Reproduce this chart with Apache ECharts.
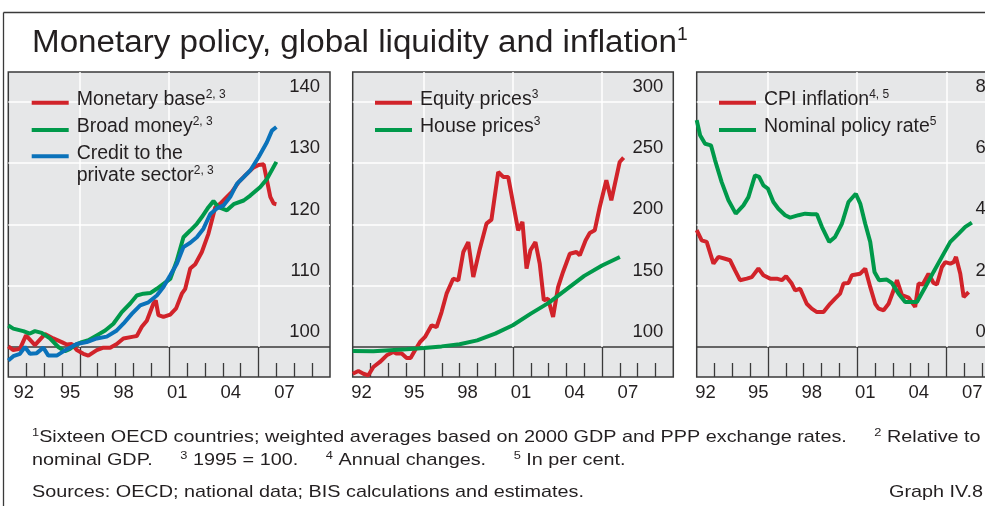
<!DOCTYPE html>
<html>
<head>
<meta charset="utf-8">
<title>Monetary policy, global liquidity and inflation</title>
<script src="https://cdn.jsdelivr.net/npm/echarts@6/dist/echarts.min.js"></script>
<style>
  html, body { margin: 0; padding: 0; background: #fff; }
  #chart { width: 985px; height: 506px; }
</style>
</head>
<body>
<div id="chart"></div>
<script>
// [year, value] pairs
const monetaryBase = [
  [1992.00, 100.1], [1992.28, 99.5], [1992.65, 99.7], [1992.99, 101.9], [1993.49, 100.3],
  [1994.05, 102.1], [1994.52, 101.4], [1994.99, 100.8], [1995.27, 100.4], [1995.55, 100.5],
  [1995.83, 99.5], [1996.20, 98.9], [1996.48, 98.6], [1996.95, 99.5], [1997.32, 99.9],
  [1997.70, 99.9], [1998.07, 100.5], [1998.44, 101.4], [1999.00, 101.7], [1999.19, 101.8],
  [1999.47, 103.3], [1999.75, 104.3], [2000.12, 107.1], [2000.25, 107.6], [2000.40, 105.2],
  [2000.68, 104.9], [2001.06, 105.3], [2001.39, 106.3], [2001.71, 108.7], [2001.90, 109.5],
  [2002.18, 112.8], [2002.46, 113.5], [2002.83, 115.5], [2003.20, 118.5], [2003.58, 122.8],
  [2003.86, 123.4], [2004.23, 124.5], [2004.51, 125.3], [2004.89, 126.9], [2005.26, 128.0],
  [2005.73, 129.3], [2006.01, 129.7], [2006.29, 129.8], [2006.47, 127.2], [2006.66, 124.5],
  [2006.85, 123.4], [2007.00, 123.3]
];
const broadMoney = [
  [1992.00, 103.5], [1992.28, 103.0], [1992.84, 102.6], [1993.21, 102.2], [1993.49, 102.6],
  [1993.87, 102.3], [1994.33, 101.4], [1994.80, 100.0], [1995.17, 99.3], [1995.45, 99.7],
  [1995.73, 100.3], [1996.11, 100.8], [1996.48, 101.1], [1996.95, 101.9], [1997.42, 102.7],
  [1997.88, 103.8], [1998.35, 105.7], [1998.82, 107.1], [1999.19, 108.4], [1999.56, 108.7],
  [1999.94, 108.8], [2000.31, 109.5], [2000.68, 110.3], [2001.06, 111.1], [2001.43, 114.1],
  [2001.80, 117.9], [2002.18, 119.0], [2002.55, 120.1], [2002.83, 121.2], [2003.20, 122.8],
  [2003.48, 123.8], [2003.76, 122.8], [2004.23, 122.3], [2004.61, 123.3], [2005.17, 123.9],
  [2005.54, 124.7], [2006.10, 126.1], [2006.47, 127.4], [2007.00, 130.2]
];
const privateCredit = [
  [1992.00, 97.8], [1992.28, 98.5], [1992.65, 98.9], [1992.93, 100.0], [1993.21, 98.9],
  [1993.59, 99.0], [1993.96, 99.9], [1994.24, 98.6], [1994.71, 98.6], [1995.08, 99.3],
  [1995.45, 99.9], [1995.83, 100.5], [1996.39, 100.8], [1996.95, 101.4], [1997.51, 101.7],
  [1998.07, 102.7], [1998.44, 103.8], [1998.91, 105.4], [1999.38, 106.8], [1999.84, 107.3],
  [2000.31, 108.4], [2000.68, 109.8], [2001.06, 111.7], [2001.43, 113.6], [2001.80, 116.3],
  [2002.18, 117.0], [2002.55, 117.9], [2002.92, 119.3], [2003.30, 121.7], [2003.67, 122.6],
  [2004.04, 123.1], [2004.42, 124.5], [2004.79, 126.6], [2005.17, 127.7], [2005.54, 128.8],
  [2006.01, 131.0], [2006.47, 133.4], [2006.75, 135.3], [2007.00, 135.9]
];
const equityPrices = [
  [1992.00, 78.2], [1992.32, 80.4], [1992.60, 78.2], [1992.88, 76.9], [1993.16, 83.7],
  [1993.53, 87.8], [1993.91, 93.2], [1994.28, 95.9], [1994.47, 94.6], [1994.75, 94.6],
  [1995.03, 91.0], [1995.25, 91.0], [1995.50, 97.3], [1995.78, 104.1], [1996.06, 108.2],
  [1996.43, 117.7], [1996.71, 116.3], [1996.99, 128.5], [1997.27, 143.5], [1997.64, 155.7],
  [1997.93, 154.4], [1998.21, 177.5], [1998.49, 185.6], [1998.77, 157.1], [1999.14, 180.2],
  [1999.51, 200.6], [1999.79, 203.9], [2000.17, 242.7], [2000.45, 238.7], [2000.73, 238.7],
  [2001.01, 216.9], [2001.29, 195.2], [2001.53, 202.0], [2001.76, 163.9], [2001.98, 178.9],
  [2002.26, 185.6], [2002.50, 168.0], [2002.73, 138.1], [2002.97, 139.4], [2003.25, 124.5],
  [2003.53, 148.9], [2003.81, 161.2], [2004.19, 176.1], [2004.56, 177.5], [2004.75, 174.8],
  [2005.08, 187.0], [2005.31, 193.0], [2005.59, 195.2], [2005.87, 214.2], [2006.24, 236.0],
  [2006.52, 219.6], [2006.99, 250.9], [2007.21, 254.4]
];
const housePrices = [
  [1992.00, 96.7], [1993.16, 96.5], [1994.09, 97.3], [1995.03, 98.1], [1996.00, 99.2],
  [1996.99, 100.5], [1998.00, 102.2], [1998.99, 105.4], [2000.00, 110.9], [2000.99, 117.7],
  [2002.00, 127.2], [2003.00, 136.0], [2004.00, 147.0], [2005.00, 158.0], [2006.00, 166.5],
  [2007.00, 173.4]
];
const cpiInflation = [
  [1992.00, 3.81], [1992.28, 3.48], [1992.56, 3.43], [1992.94, 2.72], [1993.22, 2.94],
  [1993.59, 2.88], [1993.87, 2.83], [1994.15, 2.50], [1994.43, 2.18], [1994.81, 2.23],
  [1995.09, 2.28], [1995.46, 2.56], [1995.74, 2.34], [1996.12, 2.23], [1996.49, 2.23],
  [1996.77, 2.18], [1997.01, 2.31], [1997.33, 2.07], [1997.52, 1.85], [1997.80, 1.90],
  [1998.17, 1.41], [1998.45, 1.25], [1998.74, 1.14], [1999.11, 1.14], [1999.48, 1.41],
  [1999.76, 1.58], [2000.04, 1.74], [2000.23, 2.07], [2000.51, 2.09], [2000.70, 2.34],
  [2001.17, 2.39], [2001.45, 2.56], [2001.73, 1.96], [2002.01, 1.41], [2002.20, 1.25],
  [2002.48, 1.20], [2002.76, 1.41], [2003.04, 1.85], [2003.23, 2.18], [2003.51, 1.69],
  [2003.88, 1.61], [2004.25, 1.31], [2004.44, 2.07], [2004.67, 2.04], [2005.00, 2.39],
  [2005.28, 2.09], [2005.47, 2.04], [2005.75, 2.61], [2005.94, 2.77], [2006.22, 2.72],
  [2006.41, 2.77], [2006.54, 2.94], [2006.78, 2.39], [2006.97, 1.63], [2007.25, 1.79]
];
const policyRate = [
  [1992.00, 7.40], [1992.19, 6.91], [1992.47, 6.63], [1992.80, 6.58], [1993.03, 6.09],
  [1993.40, 5.38], [1993.78, 4.79], [1994.19, 4.35], [1994.62, 4.62], [1994.90, 4.89],
  [1995.27, 5.60], [1995.50, 5.55], [1995.74, 5.27], [1995.99, 5.17], [1996.30, 4.73],
  [1996.58, 4.51], [1996.96, 4.30], [1997.24, 4.22], [1997.71, 4.30], [1998.08, 4.35],
  [1998.45, 4.33], [1998.74, 4.33], [1999.02, 3.92], [1999.43, 3.43], [1999.76, 3.59],
  [2000.14, 4.02], [2000.51, 4.73], [2000.92, 5.00], [2001.17, 4.68], [2001.45, 4.02],
  [2001.73, 3.43], [2001.97, 2.45], [2002.23, 2.18], [2002.66, 2.20], [2002.94, 2.09],
  [2003.32, 1.74], [2003.69, 1.47], [2004.35, 1.47], [2004.82, 1.96], [2005.28, 2.45],
  [2005.75, 2.94], [2006.22, 3.43], [2006.69, 3.70], [2007.06, 3.92], [2007.43, 4.06]
];

const labelYears = [1992, 1995, 1998, 2001, 2004, 2007];
const minorTickYears = [1993, 1994, 1995, 1997, 1998, 1999, 2000, 2002, 2003, 2004, 2005, 2007, 2008, 2009];
const majorTickYears = [1996, 2001, 2006];
const panelYTicks = [
  [100, 110, 120, 130, 140],
  [100, 150, 200, 250, 300],
  [0, 2, 4, 6, 8]
];

const FONT = '"Liberation Sans", Arial, sans-serif';
const INK = '#231f20';
const RED = '#d1232a';
const GREEN = '#00994a';
const BLUE = '#0a72ba';
const PLOT_BG = '#e6e7e8';
const FRAME = '#3a3a3a';

// layout of the three boxes (the third one runs past the right edge)
const panels = [
  { left: 8.3, width: 321.7, min: 95.11, max: 144.86, firstLabel: 0.87, labelMargin: 10 },
  { left: 352.7, width: 320.6, min: 75.53, max: 324.3, firstLabel: 0.5, labelMargin: 10 },
  { left: 696.7, width: 321, min: -0.979, max: 8.972, firstLabel: 0.5, labelMargin: 32 }
];

const seriesDefs = [
  { name: 'Monetary base', panel: 0, data: monetaryBase, color: RED },
  { name: 'Broad money', panel: 0, data: broadMoney, color: GREEN },
  { name: 'Credit to the private sector', panel: 0, data: privateCredit, color: BLUE },
  { name: 'Equity prices', panel: 1, data: equityPrices, color: RED },
  { name: 'House prices', panel: 1, data: housePrices, color: GREEN },
  { name: 'CPI inflation', panel: 2, data: cpiInflation, color: RED },
  { name: 'Nominal policy rate', panel: 2, data: policyRate, color: GREEN }
];

const legendDefs = [
  { name: 'Monetary base', text: '{a|Monetary base}{s|2, 3}', left: 31.7, cy: 102.8 },
  { name: 'Broad money', text: '{a|Broad money}{s|2, 3}', left: 31.7, cy: 130 },
  { name: 'Credit to the private sector', text: '{a|Credit to the}\n{a|private sector}{s|2, 3}', left: 31.7, cy: 156.3, twoLines: true },
  { name: 'Equity prices', text: '{a|Equity prices}{s|3}', left: 375, cy: 102.7 },
  { name: 'House prices', text: '{a|House prices}{s|3}', left: 375, cy: 130 },
  { name: 'CPI inflation', text: '{a|CPI inflation}{s|4, 5}', left: 719, cy: 102.7 },
  { name: 'Nominal policy rate', text: '{a|Nominal policy rate}{s|5}', left: 719, cy: 130 }
];

const titleText = 'Monetary policy, global liquidity and inflation';
const sourcesText = 'Sources: OECD; national data; BIS calculations and estimates.';

// measure to emulate the condensed face of the original
const measureCtx = document.createElement('canvas').getContext('2d');
function textWidth(str, size) {
  measureCtx.font = size + 'px ' + FONT;
  return measureCtx.measureText(str).width;
}
const titleScale = 645 / textWidth(titleText, 31);
const noteScale = 552 / textWidth(sourcesText, 17);

const grids = panels.map(p => ({
  left: p.left, top: 72, width: p.width, height: 305,
  containLabel: false, outerBoundsMode: 'none',
  show: true, backgroundColor: PLOT_BG, borderColor: FRAME, borderWidth: 1.5
}));

const xAxes = [];
const yAxes = [];
panels.forEach((p, i) => {
  xAxes.push({
    type: 'value', gridIndex: i, min: 1992, max: 2010, position: 'bottom',
    axisLine: { show: false, onZero: false },
    splitLine: { show: false },
    axisTick: { show: true, inside: true, length: 14, customValues: minorTickYears, lineStyle: { color: FRAME, width: 1.3 } },
    axisLabel: {
      show: true, margin: 6, fontSize: 18.5, color: INK, fontFamily: FONT,
      customValues: labelYears.map((y, k) => y + (k === 0 ? p.firstLabel : 0.45)),
      formatter: v => String(Math.floor(v)).slice(2)
    }
  });
  xAxes.push({
    type: 'value', gridIndex: i, min: 1992, max: 2010, position: 'bottom',
    axisLine: { show: false, onZero: false },
    splitLine: { show: false },
    axisTick: { show: true, inside: true, length: 30, customValues: majorTickYears, lineStyle: { color: FRAME, width: 1.3 } },
    axisLabel: { show: false }
  });
  yAxes.push({
    type: 'value', gridIndex: i, min: p.min, max: p.max, position: 'right',
    axisLine: { show: false, onZero: false },
    axisTick: { show: false },
    splitLine: { show: false },
    axisLabel: {
      inside: true, margin: p.labelMargin, fontSize: 18.5, color: INK, fontFamily: FONT,
      verticalAlign: 'bottom', lineHeight: 18, padding: [0, 0, 6, 0],
      customValues: panelYTicks[i]
    }
  });
});

function gridLines(i) {
  const ticks = panelYTicks[i];
  const white = { color: '#ffffff', width: 1.5, type: 'solid' };
  const lines = ticks.slice(1).map(v => ({ yAxis: v, lineStyle: white }));
  lines.push({ yAxis: ticks[0], lineStyle: { color: FRAME, width: 1.5, type: 'solid' } });
  majorTickYears.forEach(y => {
    lines.push([{ coord: [y, ticks[0]], lineStyle: white }, { coord: [y, panels[i].max] }]);
  });
  return lines;
}

const series = seriesDefs.map((s, idx) => {
  const first = seriesDefs.findIndex(d => d.panel === s.panel) === idx;
  const item = {
    name: s.name, type: 'line',
    xAxisIndex: s.panel * 2, yAxisIndex: s.panel,
    data: s.data, showSymbol: false, symbol: 'none', z: 2,
    color: s.color,
    lineStyle: { color: s.color, width: 4 },
    emphasis: { disabled: true }
  };
  if (first) {
    item.markLine = {
      silent: true, symbol: 'none', z: 1, animation: false,
      label: { show: false },
      emphasis: { disabled: true },
      data: gridLines(s.panel)
    };
  }
  return item;
});

const legends = legendDefs.map(l => {
  const h = l.twoLines ? 72 : 28;
  return {
    data: [l.name], left: l.left, top: l.cy - h / 2, orient: 'vertical',
    padding: 0, icon: 'rect', itemWidth: 37, itemHeight: 4,
    selectedMode: false,
    formatter: () => l.text,
    textStyle: {
      color: INK, fontSize: 19.5, fontFamily: FONT, lineHeight: 22,
      padding: l.twoLines ? [22, 0, 6, 3] : [0, 0, 6, 3],
      rich: {
        a: { color: INK, fontSize: 19.5, fontFamily: FONT, lineHeight: 22 },
        s: { color: INK, fontSize: 12, fontFamily: FONT, lineHeight: 16, verticalAlign: 'top' }
      }
    }
  };
});

const noteRich = {
  t: { fontSize: 17, fontFamily: FONT, fill: INK, lineHeight: 20 },
  s: { fontSize: 11, fontFamily: FONT, fill: INK, lineHeight: 14, verticalAlign: 'top' }
};

const graphics = [
  { type: 'line', shape: { x1: 3.5, y1: 12.5, x2: 985, y2: 12.5 }, style: { stroke: FRAME, lineWidth: 1.3 } },
  { type: 'line', shape: { x1: 3.5, y1: 12.5, x2: 3.5, y2: 506 }, style: { stroke: FRAME, lineWidth: 1.3 } },
  {
    type: 'text', x: 32, y: 43, scaleX: titleScale,
    style: {
      text: '{t|' + titleText + '}{s|1}', verticalAlign: 'middle',
      rich: {
        t: { fontSize: 31, fontFamily: FONT, fill: INK, lineHeight: 34 },
        s: { fontSize: 18, fontFamily: FONT, fill: INK, lineHeight: 20, verticalAlign: 'top' }
      }
    }
  },
  {
    type: 'text', x: 32, y: 437, scaleX: noteScale,
    style: {
      text: '{s|1}{t|Sixteen OECD countries; weighted averages based on 2000 GDP and PPP exchange rates.     }{s|2}{t| Relative to}',
      verticalAlign: 'middle', rich: noteRich
    }
  },
  {
    type: 'text', x: 32, y: 460, scaleX: noteScale,
    style: {
      text: '{t|nominal GDP.     }{s|3}{t| 1995 = 100.     }{s|4}{t| Annual changes.     }{s|5}{t| In per cent.}',
      verticalAlign: 'middle', rich: noteRich
    }
  },
  {
    type: 'text', x: 32, y: 492, scaleX: noteScale,
    style: { text: '{t|' + sourcesText + '}', verticalAlign: 'middle', rich: noteRich }
  },
  {
    type: 'text', x: 983, y: 492, scaleX: noteScale,
    style: { text: '{t|Graph IV.8}', align: 'right', verticalAlign: 'middle', rich: noteRich }
  }
];

const chart = echarts.init(document.getElementById('chart'));
chart.setOption({
  animation: false,
  backgroundColor: '#ffffff',
  grid: grids,
  xAxis: xAxes,
  yAxis: yAxes,
  legend: legends,
  series: series,
  graphic: graphics
});
</script>
</body>
</html>
